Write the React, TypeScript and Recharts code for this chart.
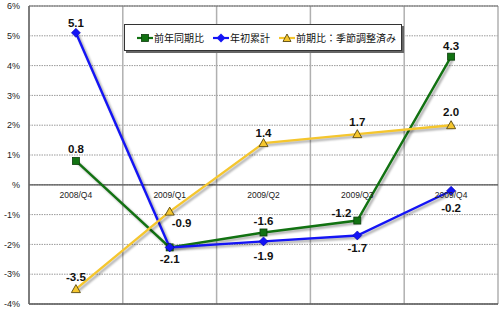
import React from 'react';
import {
  LineChart, Line, XAxis, YAxis, CartesianGrid, ReferenceLine, LabelList,
} from 'recharts';

const categories = ['2008/Q4', '2009/Q1', '2009/Q2', '2009/Q3', '2009/Q4'];
const yoyValues = [0.8, -2.1, -1.6, -1.2, 4.3];
const ytdValues = [5.1, -2.1, -1.9, -1.7, -0.2];
const qoqValues = [-3.5, -0.9, 1.4, 1.7, 2.0];
const yTicks = [-4, -3, -2, -1, 0, 1, 2, 3, 4, 5, 6];
const seriesNames = ['前年同期比', '年初累計', '前期比：季節調整済み'];

const data = categories.map((c, i) => ({
  cat: c,
  yoy: yoyValues[i],
  ytd: ytdValues[i],
  qoq: qoqValues[i],
}));

const W = 500;
const H = 311;
const M = { top: 6, right: 2, bottom: 6, left: 0 };
const X_AXIS_H = 1;
const Y_AXIS_W = 29;
const PLOT_H = H - M.top - M.bottom - X_AXIS_H;
const Y_MIN = -4;
const Y_MAX = 6;
const ZERO_Y = M.top + ((Y_MAX - 0) / (Y_MAX - Y_MIN)) * PLOT_H;

const GREEN = '#127212';
const BLUE = '#1414f5';
const YELLOW = '#f5c62e';

type Place = { dx: number; dy: number; anchor: 'start' | 'middle' | 'end' } | null;
const T = (dy = -11): Place => ({ dx: 0, dy, anchor: 'middle' });
const B = (dy = 13): Place => ({ dx: 0, dy, anchor: 'middle' });

const yoyPlaces: Place[] = [T(-12), null, T(-11), { dx: -6, dy: -8, anchor: 'end' }, T(-11)];
const ytdPlaces: Place[] = [T(-10), B(12), B(15), B(13), B(17)];
const qoqPlaces: Place[] = [T(-12), { dx: 2, dy: 11, anchor: 'start' }, T(-10), T(-12), T(-13)];

const makeLabel = (places: Place[]) => (props: any) => {
  const { x, y, value, index } = props;
  const p = places[index];
  if (!p) return null;
  return (
    <text
      x={x + p.dx}
      y={y + p.dy}
      textAnchor={p.anchor}
      dominantBaseline="central"
      fontFamily="Liberation Sans, Arial, sans-serif"
      fontWeight="bold"
      fontSize={11.5}
      fill="#111"
    >
      {Number(value).toFixed(1)}
    </text>
  );
};

const SquareDot = (props: any) => {
  const { cx, cy } = props;
  if (cx == null || cy == null) return null;
  return <rect x={cx - 3.5} y={cy - 3.5} width={7} height={7} fill={GREEN} stroke="#0a3d0a" strokeWidth={0.8} />;
};
const DiamondDot = (props: any) => {
  const { cx, cy } = props;
  if (cx == null || cy == null) return null;
  return <polygon points={`${cx},${cy - 4.5} ${cx + 4.5},${cy} ${cx},${cy + 4.5} ${cx - 4.5},${cy}`} fill={BLUE} stroke="#0000aa" strokeWidth={0.6} />;
};
const TriangleDot = (props: any) => {
  const { cx, cy } = props;
  if (cx == null || cy == null) return null;
  return <polygon points={`${cx},${cy - 4.5} ${cx + 4.5},${cy + 3.5} ${cx - 4.5},${cy + 3.5}`} fill={YELLOW} stroke="#5a4a10" strokeWidth={0.9} />;
};

const XTick = (props: any) => {
  const { x, payload } = props;
  return (
    <text x={x} y={ZERO_Y + 10} textAnchor="middle" dominantBaseline="central"
      fontFamily="Liberation Sans, Arial, sans-serif" fontSize={8.5} fill="#222">
      {payload.value}
    </text>
  );
};

const LegendIcon = ({ kind }: { kind: number }) => {
  const color = [GREEN, BLUE, YELLOW][kind];
  return (
    <svg width={16} height={10} style={{ display: 'block' }}>
      <line x1={0} y1={5} x2={16} y2={5} stroke={color} strokeWidth={2.2} />
      {kind === 0 && <rect x={4.5} y={1.5} width={7} height={7} fill={GREEN} stroke="#0a3d0a" strokeWidth={0.8} />}
      {kind === 1 && <polygon points="8,0.5 12.5,5 8,9.5 3.5,5" fill={BLUE} />}
      {kind === 2 && <polygon points="8,1 12,8.5 4,8.5" fill={YELLOW} stroke="#5a4a10" strokeWidth={0.9} />}
    </svg>
  );
};

const LegendBox = () => (
  <div style={{
    position: 'absolute', left: 124, top: 24,
    width: 264, height: 25, background: '#fff', border: '1px solid #333',
    boxShadow: '2px 2px 0 #666', display: 'flex', alignItems: 'center',
    fontFamily: '"Noto Sans CJK JP", sans-serif', fontSize: 10, color: '#111',
    boxSizing: 'content-box', paddingLeft: 12,
  }}>
    {seriesNames.map((n, i) => (
      <div key={n} style={{ display: 'flex', alignItems: 'center', marginRight: i === 2 ? 0 : 9 }}>
        <LegendIcon kind={i} />
        <span style={{ marginLeft: 1, whiteSpace: 'nowrap' }}>{n}</span>
      </div>
    ))}
  </div>
);

export default function App() {
  return (
    <div style={{ position: 'absolute', left: 0, top: 0, width: W, height: H, background: '#fff' }}>
      <style>{`.shadowed .recharts-line-curve { filter: drop-shadow(2px 2px 1px rgba(0,0,0,0.35)); }`}</style>
      <LineChart width={W} height={H} data={data} margin={M} className="shadowed">
        <CartesianGrid vertical={false} stroke="#9a9a9a" strokeDasharray="1.5 1" />
        <CartesianGrid
          horizontal={false}
          stroke="#b0b0b0"
          strokeWidth={1.5}
          verticalCoordinatesGenerator={({ offset }: any) =>
            categories.map((_, i) => offset.left + (i * offset.width) / categories.length).concat([offset.left + offset.width])
          }
        />
        <XAxis dataKey="cat" scale="band" height={X_AXIS_H} axisLine={false} tickLine={false} tick={<XTick />} interval={0} />
        <YAxis
          width={Y_AXIS_W}
          domain={[Y_MIN, Y_MAX]}
          ticks={yTicks}
          interval={0}
          tickFormatter={(v: number) => (v === 0 ? '%' : `${v}%`)}
          axisLine={{ stroke: '#666', strokeWidth: 1.5 }}
          tickLine={false}
          tick={{ fontFamily: 'Liberation Sans, Arial, sans-serif', fontSize: 9, fill: '#222' }}
          tickMargin={3}
        />
        <ReferenceLine y={0} stroke="#555" strokeWidth={1.2} />
        <ReferenceLine y={Y_MAX} stroke="#666" strokeWidth={1.2} />
        <ReferenceLine y={Y_MIN} stroke="#555" strokeWidth={1.5} />
        <Line dataKey="yoy" name={seriesNames[0]} stroke={GREEN} strokeWidth={2.4} dot={<SquareDot />} activeDot={false} isAnimationActive={false}>
          <LabelList dataKey="yoy" content={makeLabel(yoyPlaces)} />
        </Line>
        <Line dataKey="ytd" name={seriesNames[1]} stroke={BLUE} strokeWidth={2.4} dot={<DiamondDot />} activeDot={false} isAnimationActive={false}>
          <LabelList dataKey="ytd" content={makeLabel(ytdPlaces)} />
        </Line>
        <Line dataKey="qoq" name={seriesNames[2]} stroke={YELLOW} strokeWidth={2.4} dot={<TriangleDot />} activeDot={false} isAnimationActive={false}>
          <LabelList dataKey="qoq" content={makeLabel(qoqPlaces)} />
        </Line>
      </LineChart>
      <LegendBox />
    </div>
  );
}
